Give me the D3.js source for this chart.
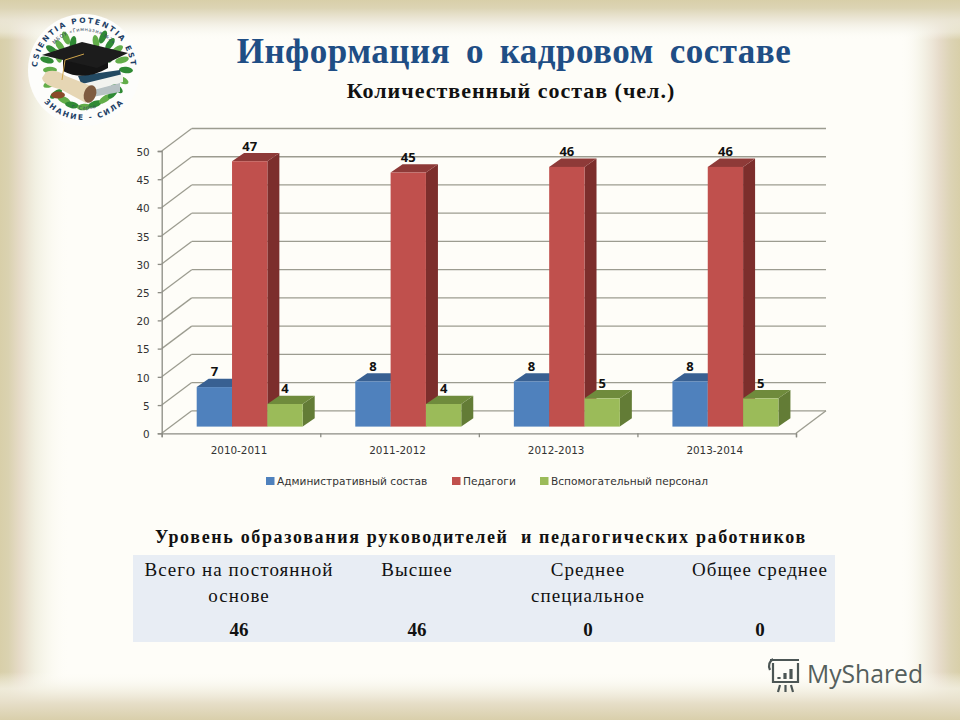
<!DOCTYPE html>
<html>
<head>
<meta charset="utf-8">
<script src="https://cdn.jsdelivr.net/npm/d3@7"></script>
<style>
  html, body { margin: 0; padding: 0; background: #fefdf8; }
  svg { display: block; }
</style>
</head>
<body>
<script>
// chart data
const categories = ['2010-2011', '2011-2012', '2012-2013', '2013-2014'];
const adminStaff = [7, 8, 8, 8];
const teachers = [47, 45, 46, 46];
const supportStaff = [4, 4, 5, 5];
const seriesNames = ['Административный состав', 'Педагоги', 'Вспомогательный персонал'];
const yTicks = [0, 5, 10, 15, 20, 25, 30, 35, 40, 45, 50];

// table under the chart
const tableHeads = [['Всего на постоянной', 'основе'], ['Высшее'], ['Среднее', 'специальное'], ['Общее среднее']];
const tableValues = [46, 46, 0, 0];

const serif = '"Liberation Serif", serif';
const sans = '"DejaVu Sans", sans-serif';

const svg = d3.select('body').append('svg').attr('width', 960).attr('height', 720);
const defs = svg.append('defs');

/***** background frame *****/
function fade(id, x2, y2, stops) {
  const g = defs.append('linearGradient').attr('id', id)
    .attr('x1', 0).attr('y1', 0).attr('x2', x2).attr('y2', y2);
  stops.forEach(s => g.append('stop').attr('offset', s[0]).attr('stop-color', s[1]).attr('stop-opacity', s[2]));
}
fade('edgeLeft', 1, 0, [[0, '#d8cfa9', 1], [0.12, '#dad2b0', 1], [0.28, '#e6dbc8', 1], [0.5, '#efeddd', 0.85], [0.75, '#f8f7ec', 0.5], [1, '#fefdf8', 0]]);
fade('edgeRight', 1, 0, [[0, '#fefdf8', 0], [0.35, '#f3f1e4', 0.8], [0.65, '#e7dccb', 1], [0.85, '#dcd3b4', 1], [1, '#d8cfa9', 1]]);
fade('edgeTop', 0, 1, [[0, '#d8cfa9', 1], [0.2, '#dcd4b4', 1], [0.5, '#ebe6d6', 0.9], [0.8, '#f7f6ee', 0.5], [1, '#fefdf8', 0]]);
fade('edgeBottom', 0, 1, [[0, '#fefdf8', 0], [0.35, '#f4f1e4', 0.8], [0.65, '#e6dec8', 1], [1, '#d9cfab', 1]]);

svg.append('rect').attr('width', 960).attr('height', 720).attr('fill', '#fefdf8');
svg.append('rect').attr('width', 70).attr('height', 720).attr('fill', 'url(#edgeLeft)');
svg.append('rect').attr('x', 900).attr('width', 60).attr('height', 720).attr('fill', 'url(#edgeRight)');
svg.append('rect').attr('width', 960).attr('height', 40).attr('fill', 'url(#edgeTop)');
svg.append('rect').attr('y', 672).attr('width', 960).attr('height', 48).attr('fill', 'url(#edgeBottom)');

/***** titles *****/
svg.append('text').text('Информация о кадровом составе')
  .attr('x', 514).attr('y', 63).attr('text-anchor', 'middle')
  .attr('font-family', serif).attr('font-weight', 'bold').attr('font-size', 35)
  .attr('letter-spacing', 0.5).attr('word-spacing', 6.5).attr('fill', '#1f4e85');

svg.append('text').text('Количественный состав (чел.)')
  .attr('x', 511).attr('y', 98).attr('text-anchor', 'middle')
  .attr('font-family', serif).attr('font-weight', 'bold').attr('font-size', 22)
  .attr('letter-spacing', 1).attr('fill', '#111');

/***** chart *****/
// 3d offsets: wall depth, bar depth and how far the bars stand from the front edge
const wallDx = 30, wallDy = -22.5;
const barDx = 12, barDy = -8.3, floorDy = -6.7;

const y = d3.scaleLinear().domain([0, 50]).range([433.3, 151]);
const x = d3.scaleBand().domain(categories).range([161.7, 796]);
const xEdges = d3.scaleLinear().domain([0, categories.length]).range([161.7, 796]);
const xInner = d3.scaleBand().domain(seriesNames).range([35, 141]);
const heightOf = v => y(0) - y(v);

const chart = svg.append('g');

// back wall gridlines and the diagonals on the left wall
const grid = chart.append('g').attr('stroke', '#9c9c90').attr('stroke-width', 1.3).attr('fill', 'none');
grid.selectAll('line.back').data(yTicks).enter().append('line').attr('class', 'back')
  .attr('x1', 161.7 + wallDx).attr('x2', 796 + wallDx)
  .attr('y1', d => y(d) + wallDy).attr('y2', d => y(d) + wallDy);
grid.selectAll('line.side').data(yTicks).enter().append('line').attr('class', 'side')
  .attr('x1', 161.7).attr('x2', 161.7 + wallDx)
  .attr('y1', d => y(d)).attr('y2', d => y(d) + wallDy);
grid.append('line')
  .attr('x1', 796).attr('x2', 796 + wallDx)
  .attr('y1', y(0)).attr('y2', y(0) + wallDy);

// axes
const yAxis = chart.append('g').attr('transform', 'translate(161.7,0)')
  .call(d3.axisLeft(y).tickValues(yTicks).tickSize(4).tickPadding(8));
const xAxis = chart.append('g').attr('transform', 'translate(0,' + y(0) + ')')
  .call(d3.axisBottom(xEdges).ticks(categories.length).tickFormat('').tickSize(4));
const xLabels = chart.append('g').attr('transform', 'translate(-2,' + y(0) + ')')
  .call(d3.axisBottom(x).tickSize(0).tickPadding(13));
xLabels.select('.domain').remove();

[yAxis, xAxis].forEach(a => a.selectAll('path, line').attr('stroke', '#8c8c84').attr('stroke-width', 1.3));
[yAxis, xLabels].forEach(a => a.selectAll('text')
  .attr('font-family', sans).attr('font-size', 10.4).attr('fill', '#333'));
yAxis.selectAll('text').attr('dy', '0.42em');

// bars, one series after another so the red sides sit behind the green fronts
const barSeries = [
  { name: seriesNames[0], values: adminStaff, front: '#4f81bd', top: '#386092', side: '#2f5480' },
  { name: seriesNames[1], values: teachers, front: '#c0504d', top: '#8e3a38', side: '#7c2e2c' },
  { name: seriesNames[2], values: supportStaff, front: '#9bbb59', top: '#6f8b3c', side: '#637c36' }
];
const poly = pts => pts.map(p => p.join(',')).join(' ');

categories.forEach((cat, i) => {
  const group = chart.append('g').attr('transform', 'translate(' + x(cat) + ',0)');
  barSeries.forEach(s => {
    const x0 = xInner(s.name);
    const x1 = x0 + xInner.bandwidth();
    const base = y(0) + floorDy;
    const top = base - heightOf(s.values[i]);
    group.append('polygon').attr('fill', s.side)
      .attr('points', poly([[x1, top], [x1 + barDx, top + barDy], [x1 + barDx, base + barDy], [x1, base]]));
    group.append('polygon').attr('fill', s.top)
      .attr('points', poly([[x0, top], [x0 + barDx, top + barDy], [x1 + barDx, top + barDy], [x1, top]]));
    group.append('rect').attr('fill', s.front)
      .attr('x', x0).attr('y', top).attr('width', x1 - x0).attr('height', base - top);
  });
  barSeries.forEach(s => {
    const base = y(0) + floorDy;
    group.append('text').text(s.values[i])
      .attr('x', xInner(s.name) + xInner.bandwidth() / 2)
      .attr('y', base - heightOf(s.values[i]) + barDy - 7)
      .attr('dy', '0.36em').attr('text-anchor', 'middle')
      .attr('font-family', '"Open Sans", sans-serif').attr('font-weight', 'bold')
      .attr('font-size', 13).attr('fill', '#111');
  });
});

// legend
const legendX = [266, 452, 540];
const legend = svg.append('g').selectAll('g').data(barSeries).enter().append('g')
  .attr('transform', (d, i) => 'translate(' + legendX[i] + ',477)');
legend.append('rect').attr('width', 8.5).attr('height', 8).attr('fill', d => d.front);
legend.append('text').text(d => d.name)
  .attr('x', 11).attr('y', 8.2)
  .attr('font-family', sans).attr('font-size', 10.6).attr('fill', '#333');

/***** table *****/
svg.append('text').text('Уровень образования руководителей  и педагогических работников')
  .attr('x', 481).attr('y', 543).attr('text-anchor', 'middle').style('white-space', 'pre')
  .attr('font-family', serif).attr('font-weight', 'bold').attr('font-size', 18)
  .attr('letter-spacing', 1.65).attr('fill', '#111');

svg.append('rect').attr('x', 133).attr('y', 555).attr('width', 702).attr('height', 87).attr('fill', '#e8edf4');

const colCenters = [239, 417, 588, 760];
tableHeads.forEach((lines, i) => {
  lines.forEach((line, j) => {
    svg.append('text').text(line)
      .attr('x', colCenters[i]).attr('y', 576 + j * 26).attr('text-anchor', 'middle')
      .attr('font-family', serif).attr('font-size', 19)
      .attr('letter-spacing', 1.05).attr('fill', '#111');
  });
  svg.append('text').text(tableValues[i])
    .attr('x', colCenters[i]).attr('y', 636).attr('text-anchor', 'middle')
    .attr('font-family', serif).attr('font-weight', 'bold').attr('font-size', 19).attr('fill', '#111');
});

/***** logo *****/
const logo = svg.append('g');
logo.append('circle').attr('cx', 84).attr('cy', 70).attr('r', 56).attr('fill', '#fdfdfb');

// wreath leaves: [x, y, rotation]
const leaves = [[66, 38, -25], [73, 43, 10], [60, 46, -35], [52, 50, -55], [58, 56, -20], [47, 60, -75], [50, 70, -90],
  [103, 37, 25], [96, 42, -10], [110, 44, 35], [117, 50, 55], [111, 56, 20], [122, 60, 75], [126, 70, 95], [122, 80, 115], [117, 88, 130],
  [50, 84, 70], [56, 94, 55], [64, 100, 115], [72, 105, 100], [84, 107, 85], [95, 104, 70], [105, 99, 55], [113, 93, 40]];
logo.selectAll('ellipse.leaf').data(leaves).enter().append('ellipse').attr('class', 'leaf')
  .attr('rx', 3.2).attr('ry', 7).attr('fill', (d, i) => i % 2 ? '#2f8a35' : '#62ad49')
  .attr('transform', d => 'translate(' + d[0] + ',' + d[1] + ') rotate(' + d[2] + ')');

// books
logo.append('polygon').attr('points', '78,76 120,70 122,80 84,90').attr('fill', '#234a63');
logo.append('polygon').attr('points', '82,84 123,74 123,82 86,92').attr('fill', '#f2f3ef');
logo.append('polygon').attr('points', '86,92 120,83 120,92 92,97').attr('fill', '#b7c2c4');
// scroll and seal
logo.append('path').attr('d', 'M46 72 Q55 68 66 76 L96 88 L86 103 L60 89 Q44 86 42 78 Z').attr('fill', '#e6d6b4');
logo.append('ellipse').attr('cx', 90).attr('cy', 94).attr('rx', 6).attr('ry', 9).attr('fill', '#7f5c40')
  .attr('transform', 'rotate(20 90 94)');
logo.append('ellipse').attr('cx', 58).attr('cy', 95).attr('rx', 7).attr('ry', 3.5).attr('fill', '#8a4b2a');
// cap
logo.append('path').attr('d', 'M63 60 L63 71 Q84 82 108 68 L108 60 Z').attr('fill', '#141414');
logo.append('polygon').attr('points', '42,55 82,42 128,53 97,68').attr('fill', '#1c1c1c');
logo.append('path').attr('d', 'M84 54 L65 60 L62 80').attr('fill', 'none').attr('stroke', '#d1a64c').attr('stroke-width', 1);

function arcText(id, d, str, size, weight, spacing, color) {
  defs.append('path').attr('id', id).attr('d', d);
  logo.append('text').attr('font-family', sans).attr('font-size', size).attr('font-weight', weight)
    .attr('letter-spacing', spacing).attr('fill', color)
    .append('textPath').attr('href', '#' + id).attr('startOffset', '50%').attr('text-anchor', 'middle').text(str);
}
arcText('arcTop', 'M 37 70 A 47 47 0 0 1 131 70', 'CSIENTIA POTENTIA EST', 7.5, 'bold', 1.9, '#1d3f66');
arcText('arcInner', 'M 45 70 A 39 39 0 0 1 123 70', 'МБОУ «Гимназия №2»', 5, 'normal', 0.5, '#33485c');
arcText('arcBottom', 'M 30 66 A 54 54 0 0 0 138 66', 'ЗНАНИЕ - СИЛА', 7.5, 'bold', 1.8, '#1d3f66');
arcText('arcInner2', 'M 46 82 A 40 40 0 0 0 122 82', 'г. Саров', 5, 'normal', 0.5, '#33485c');

/***** MyShared mark *****/
const mark = svg.append('g').attr('stroke', '#4c5655').attr('fill', 'none').attr('stroke-width', 2.2);
mark.append('path').attr('d', 'M773 663 L773 682 L798 682 L798 663 M770 660 L799 660 M773 659 Q767 663 770 670');
mark.append('path').attr('d', 'M780 685 L778 692 M785.5 685 L785.5 692 M791 685 L793 692');
mark.append('path').attr('d', 'M779 679 L779 677 M785 679 L785 673 M791 679 L791 669').attr('stroke-width', 3.2);
svg.append('text').text('MyShared')
  .attr('x', 807).attr('y', 683)
  .attr('font-family', '"Open Sans", sans-serif').attr('font-size', 24.7).attr('fill', '#555f5d');
</script>
</body>
</html>
